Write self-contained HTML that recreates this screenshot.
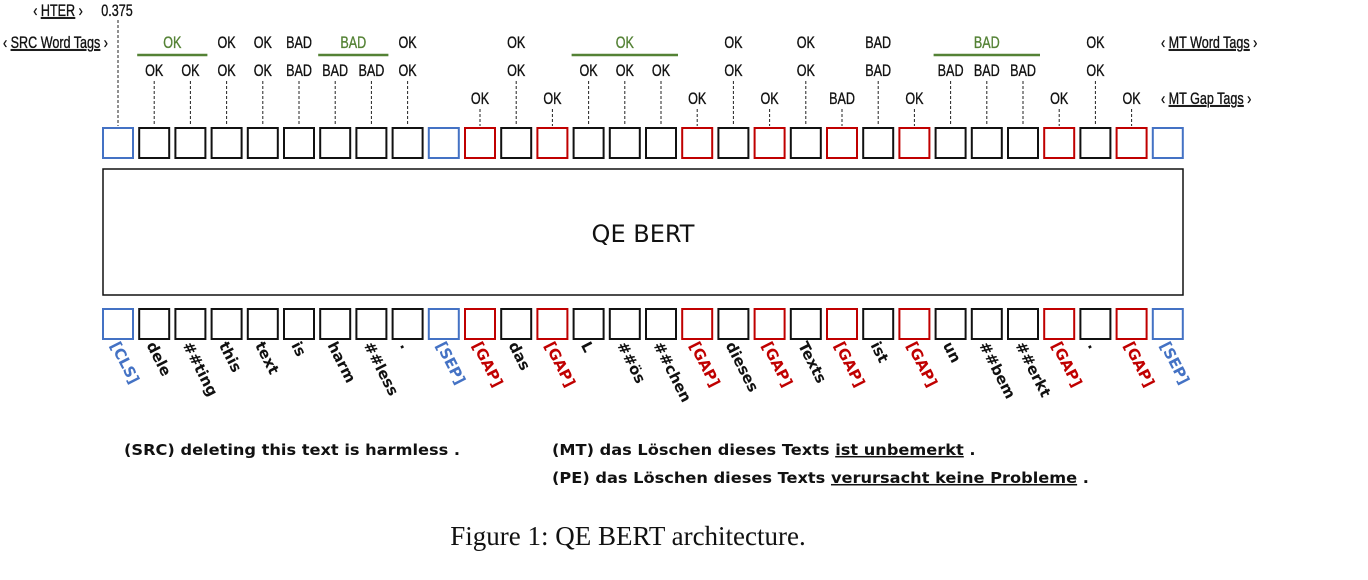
<!DOCTYPE html>
<html><head><meta charset="utf-8"><style>
html,body{margin:0;padding:0;background:#fff;width:1368px;height:580px;overflow:hidden}
svg{display:block}
.t{font-family:"Liberation Sans",sans-serif;font-size:17px;fill:#111;stroke:#111;stroke-width:0.35}
.b{font-family:"DejaVu Sans","Liberation Sans",sans-serif;font-weight:bold;font-size:15px}
</style></head><body>
<svg id="s" width="1368" height="580" xmlns="http://www.w3.org/2000/svg"></svg>
<script>
const s=document.getElementById('s');let h='';
const cx=i=>118+36.2*i;
const BLUE='#4472c4',RED='#c00000',GREEN='#548235';
function T(x,y,str,col,anchor){col=col||'#111';h+=`<g transform="translate(${x},${y}) scale(0.74,1)"><text class="t" x="0" y="0" text-anchor="${anchor||'middle'}" style="fill:${col};stroke:${col}">${str}</text></g>`;}
function D(x,y1,y2){h+=`<line x1="${x}" y1="${y1}" x2="${x}" y2="${y2}" stroke="#222" stroke-width="1" stroke-dasharray="3,2"/>`;}
const toks=[['[CLS]','c'],['dele'],['##ting'],['this'],['text'],['is'],['harm'],['##less'],['.'],['[SEP]','c'],
['[GAP]','g'],['das'],['[GAP]','g'],['L'],['##ös'],['##chen'],['[GAP]','g'],['dieses'],['[GAP]','g'],['Texts'],['[GAP]','g'],['ist'],['[GAP]','g'],['un'],['##bem'],['##erkt'],['[GAP]','g'],['.'],['[GAP]','g'],['[SEP]','c']];
toks.forEach((t,i)=>{const x=cx(i)-15;const col=t[1]=='c'?BLUE:t[1]=='g'?RED:'#111';
h+=`<rect x="${x}" y="128" width="30" height="30" fill="none" stroke="${col}" stroke-width="2"/>`;
h+=`<rect x="${x}" y="309" width="30" height="30" fill="none" stroke="${col}" stroke-width="2"/>`;
const fs=(t[1]=='c')?18:(t[1]=='g'?14:16);
h+=`<text class="b" font-size="${fs}" fill="${col}" transform="translate(${cx(i)-8},${345}) rotate(63)">${t[0]}</text>`;
});
h+=`<rect x="103" y="169" width="1080" height="126" fill="none" stroke="#111" stroke-width="1.5"/>`;
h+=`<text x="643" y="242" text-anchor="middle" font-family="DejaVu Sans,Liberation Sans,sans-serif" font-size="24" fill="#111">QE BERT</text>`;
const r2={1:'OK',2:'OK',3:'OK',4:'OK',5:'BAD',6:'BAD',7:'BAD',8:'OK',11:'OK',13:'OK',14:'OK',15:'OK',17:'OK',19:'OK',21:'BAD',23:'BAD',24:'BAD',25:'BAD',27:'OK'};
for(const k in r2){T(cx(+k),76,r2[k]);D(cx(+k),81,126);}
const r3={10:'OK',12:'OK',16:'OK',18:'OK',20:'BAD',22:'OK',26:'OK',28:'OK'};
for(const k in r3){T(cx(+k),104,r3[k]);D(cx(+k),109,126);}
const r1={3:'OK',4:'OK',5:'BAD',8:'OK',11:'OK',17:'OK',19:'OK',21:'BAD',27:'OK'};
for(const k in r1)T(cx(+k),48,r1[k]);
[[1,2,'OK'],[6,7,'BAD'],[13,15,'OK'],[23,25,'BAD']].forEach(g=>{const a=cx(g[0])-17,b=cx(g[1])+17;
h+=`<line x1="${a}" y1="55" x2="${b}" y2="55" stroke="${GREEN}" stroke-width="2.5"/>`;T((a+b)/2,48,g[2],GREEN);});
D(118,20,126);
T(58,16,'‹ <tspan text-decoration="underline">HTER</tspan> ›');
T(117,16,'0.375');
T(3,48,'‹ <tspan text-decoration="underline">SRC Word Tags</tspan> ›','#111','start');
T(1161,48,'‹ <tspan text-decoration="underline">MT Word Tags</tspan> ›','#111','start');
T(1161,104,'‹ <tspan text-decoration="underline">MT Gap Tags</tspan> ›','#111','start');
function B(x,y,html){h+=`<g transform="translate(${x},${y}) scale(1.08,1)"><text class="b" font-size="17" x="0" y="0" fill="#111">${html}</text></g>`;}
B(124,455,'(SRC) deleting this text is harmless .');
B(552,455,'(MT) das Löschen dieses Texts <tspan text-decoration="underline">ist unbemerkt</tspan> .');
B(552,483,'(PE)  das Löschen dieses Texts <tspan text-decoration="underline">verursacht keine Probleme</tspan> .');
h+=`<text x="628" y="545" text-anchor="middle" font-family="Liberation Serif,serif" font-size="27" fill="#111">Figure 1: QE BERT architecture.</text>`;
s.innerHTML=h;
</script>
</body></html>
